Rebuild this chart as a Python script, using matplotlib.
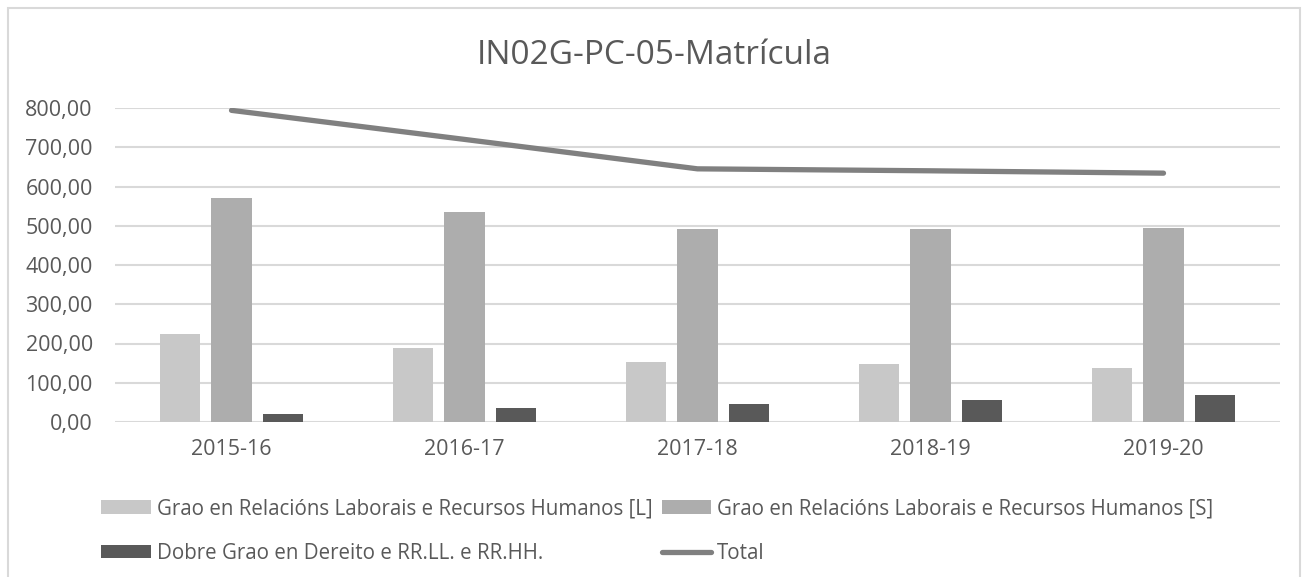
import numpy as np
import matplotlib.pyplot as plt
from matplotlib.patches import Rectangle

plt.rcParams['font.family'] = ['Open Sans', 'DejaVu Sans']

# data
cursos = ['2015-16', '2016-17', '2017-18', '2018-19', '2019-20']
grao_l = [224, 188, 152, 148, 138]
grao_s = [571, 534, 492, 492, 495]
dobre = [21, 36, 46, 55, 68]
total = [794, 720, 645, 640, 634]

labels = ['Grao en Relacións Laborais e Recursos Humanos [L]',
          'Grao en Relacións Laborais e Recursos Humanos [S]',
          'Dobre Grao en Dereito e RR.LL. e RR.HH.',
          'Total']
txt = '#595959'

fig = plt.figure(figsize=(13.08, 5.77), dpi=100)
ax = fig.add_axes([115/1308, 1 - 422/577, 1165/1308, 314/577])

x = np.arange(len(cursos))
w = 0.172
step = 0.221
b1 = ax.bar(x - step, grao_l, w, color='#C8C8C8', zorder=3)
b2 = ax.bar(x, grao_s, w, color='#ADADAD', zorder=3)
b3 = ax.bar(x + step, dobre, w, color='#595959', zorder=3)
ln, = ax.plot(x, total, color='#808080', lw=3.8, solid_capstyle='round', zorder=4)

ax.set_xlim(-0.5, len(cursos) - 0.5)
ax.set_ylim(0, 800)
ax.set_yticks(np.arange(0, 801, 100))
ax.set_yticklabels([f'{v:.2f}'.replace('.', ',') for v in range(0, 801, 100)])
ax.set_xticks(x)
ax.set_xticklabels(cursos)
ax.tick_params(length=0, labelsize=15.5, colors=txt)
ax.tick_params(axis='x', pad=12)
ax.tick_params(axis='y', pad=16)
ax.grid(axis='y', color='#D9D9D9', lw=1.5, zorder=0)
for s in ax.spines.values():
    s.set_visible(False)

fig.text(0.5, 1 - 55/577, 'IN02G-PC-05-Matrícula', ha='center', va='center',
         fontsize=24, color=txt)

# row-major order like the reference: L, S / Dobre, Total
fig.legend([b1, b3, b2, ln], [labels[0], labels[2], labels[1], labels[3]],
           ncol=2, loc='upper left',
           bbox_to_anchor=(93/1308, 1 - 490/577), frameon=False,
           fontsize=14.8, labelcolor=txt, handlelength=2.4, handleheight=0.6,
           handletextpad=0.3, columnspacing=0.45, labelspacing=1.15,
           borderaxespad=0)

fig.patches.append(Rectangle((8/1308, -0.02), 1292/1308, 1.02 - 8/577,
                             transform=fig.transFigure, fill=False,
                             edgecolor='#D9D9D9', lw=1.5))

fig.savefig('out.png', dpi=100)
